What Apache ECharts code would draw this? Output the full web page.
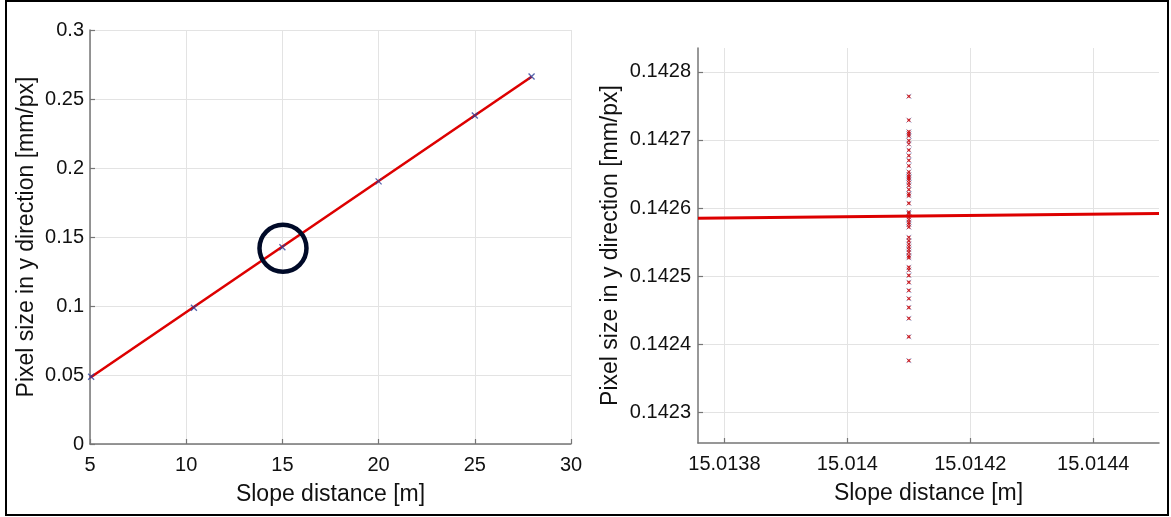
<!DOCTYPE html>
<html>
<head>
<meta charset="utf-8">
<script src="https://cdn.jsdelivr.net/npm/echarts@6/dist/echarts.min.js"></script>
<style>
html,body{margin:0;padding:0;background:#fff;}
#chart{width:1171px;height:517px;}
</style>
</head>
<body>
<div id="chart"></div>
<script>
// ---- Left panel data ----
const leftDistance = [5.06, 10.4, 15.0, 20.0, 25.0, 27.95];
const leftPixelSize = [0.0487, 0.0987, 0.1426, 0.1903, 0.2380, 0.2663];
const leftFitX = [5, 27.95];
const leftFitY = [0.0480, 0.2661];
const circleCenter = [15.03, 0.1418];

// ---- Right panel data (zoom at ~15.0141 m) ----
const rightDistance = 15.0141;
const rightPixelSize = [
  0.142764, 0.142729, 0.142712, 0.142709, 0.142706, 0.142699, 0.142694, 0.142685,
  0.142677, 0.142670, 0.142662, 0.142653, 0.142649, 0.142646, 0.142644, 0.142641,
  0.142637, 0.142633, 0.142627, 0.142621, 0.142618, 0.142607, 0.142594, 0.142592,
  0.142587, 0.142583, 0.142579, 0.142576, 0.142572, 0.142557, 0.142552, 0.142547,
  0.142543, 0.142539, 0.142535, 0.142530, 0.142527, 0.142513, 0.142509, 0.142501,
  0.142491, 0.142479, 0.142467, 0.142454, 0.142438, 0.142411, 0.142376
];
const rightFitX = [15.013757, 15.014507];
const rightFitY = [0.142585, 0.142592];

// ---- Axis ranges / ticks ----
const leftXRange = [5, 30];
const leftYRange = [0, 0.3];
const rightXRange = [15.013757, 15.014507];
const rightYRange = [0.142255, 0.142835];
const rightXTicks = [15.0138, 15.0140, 15.0142, 15.0144];
const rightYTicks = [0.1423, 0.1424, 0.1425, 0.1426, 0.1427, 0.1428];

const FONT = "'Liberation Sans', Arial, Helvetica, sans-serif";
const AXIS_COLOR = '#767676';
const TEXT_COLOR = '#111111';
const GRID_COLOR = '#e3e3e3';
const X_PATH = 'path://M0,0L10,10M10,0L0,10';
const TICK_FS = 20;
const NAME_FS = 23;

function fmt(v){ return String(+(+v).toFixed(7)); }

function axisBase(extra){
  return Object.assign({
    axisLine: {show: true, onZero: false, lineStyle: {color: AXIS_COLOR, width: 1.5}},
    axisTick: {show: true, inside: true, length: 5, lineStyle: {color: AXIS_COLOR, width: 1.2}},
    splitLine: {show: true, lineStyle: {color: GRID_COLOR, width: 1}},
    nameLocation: 'middle',
    nameTextStyle: {color: TEXT_COLOR, fontSize: NAME_FS, fontFamily: FONT}
  }, extra);
}
function lbl(margin, custom){
  const o = {color: TEXT_COLOR, fontSize: TICK_FS, fontFamily: FONT, formatter: fmt, margin: margin};
  if (custom) o.customValues = custom;
  return o;
}

const chart = echarts.init(document.getElementById('chart'), null, {renderer: 'canvas'});

const option = {
  animation: false,
  backgroundColor: '#fff',
  grid: [
    {left: 90, top: 30, width: 481, height: 414, containLabel: false},
    {left: 698, top: 48, width: 461, height: 395, containLabel: false}
  ],
  xAxis: [
    axisBase({type: 'value', gridIndex: 0, min: leftXRange[0], max: leftXRange[1], interval: 5,
      name: 'Slope distance [m]', nameGap: 39, axisLabel: lbl(11)}),
    axisBase({type: 'value', gridIndex: 1, min: rightXRange[0], max: rightXRange[1],
      name: 'Slope distance [m]', nameGap: 39,
      axisTick: {show: true, inside: true, length: 5, customValues: rightXTicks, lineStyle: {color: AXIS_COLOR, width: 1.2}},
      axisLabel: lbl(11, rightXTicks)})
  ],
  yAxis: [
    axisBase({type: 'value', gridIndex: 0, min: leftYRange[0], max: leftYRange[1], interval: 0.05,
      name: 'Pixel size in y direction [mm/px]', nameGap: 52, axisLabel: lbl(6)}),
    axisBase({type: 'value', gridIndex: 1, min: rightYRange[0], max: rightYRange[1],
      name: 'Pixel size in y direction [mm/px]', nameGap: 76,
      axisTick: {show: true, inside: true, length: 5, customValues: rightYTicks, lineStyle: {color: AXIS_COLOR, width: 1.2}},
      axisLabel: lbl(7, rightYTicks)})
  ],
  series: [
    {
      type: 'line', xAxisIndex: 0, yAxisIndex: 0, showSymbol: false, z: 3,
      data: leftFitX.map((x, i) => [x, leftFitY[i]]),
      lineStyle: {color: '#dd0000', width: 2.6}
    },
    {
      type: 'scatter', xAxisIndex: 0, yAxisIndex: 0, z: 4,
      symbol: X_PATH, symbolSize: 6,
      itemStyle: {color: 'transparent', borderColor: '#2c3f9a', borderWidth: 1.3},
      data: leftDistance.map((x, i) => [x, leftPixelSize[i]])
    },
    {
      type: 'scatter', xAxisIndex: 0, yAxisIndex: 0, z: 5,
      symbol: 'circle', symbolSize: 47,
      itemStyle: {color: 'transparent', borderColor: '#000a28', borderWidth: 4.5, opacity: 1},
      data: [circleCenter]
    },
    {
      type: 'scatter', xAxisIndex: 1, yAxisIndex: 1, z: 3,
      symbol: X_PATH, symbolSize: 5,
      itemStyle: {color: 'transparent', borderColor: '#7f86b8', borderWidth: 1},
      data: rightPixelSize.map(v => [rightDistance, v])
    },
    {
      type: 'scatter', xAxisIndex: 1, yAxisIndex: 1, z: 4,
      symbol: X_PATH, symbolSize: 3,
      itemStyle: {color: 'transparent', borderColor: '#d40000', borderWidth: 1.2},
      data: rightPixelSize.map(v => [rightDistance, v])
    },
    {
      type: 'line', xAxisIndex: 1, yAxisIndex: 1, showSymbol: false, z: 5,
      data: rightFitX.map((x, i) => [x, rightFitY[i]]),
      lineStyle: {color: '#dd0000', width: 3.2}
    }
  ],
  graphic: [
    {type: 'rect', shape: {x: 6, y: 1, width: 1162, height: 514},
     style: {fill: 'none', stroke: '#000', lineWidth: 2}, silent: true, z: 100}
  ]
};
chart.setOption(option);
</script>
</body>
</html>
